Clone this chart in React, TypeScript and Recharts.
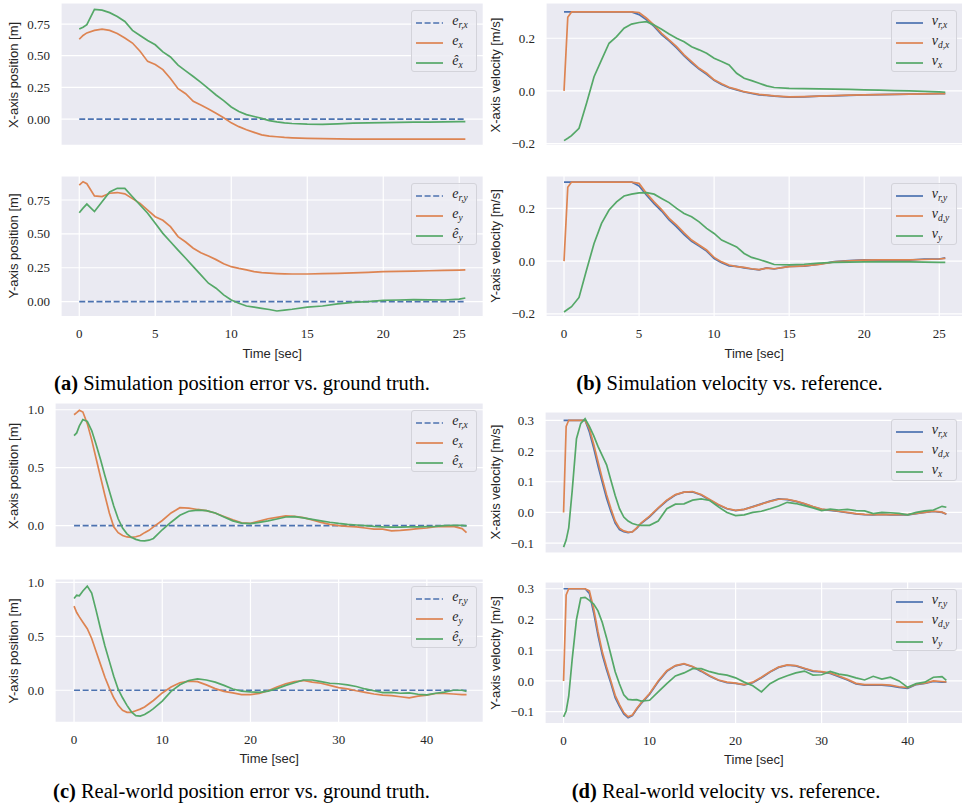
import React from 'react';
import { LineChart, Line, XAxis, YAxis, CartesianGrid } from 'recharts';

const BLUE = '#4C72B0';
const ORANGE = '#DD8452';
const GREEN = '#55A868';
const TEXT = '#262626';

// ---------- time axes ----------
const simTime = [0, 0.25, 0.5, 1, 1.5, 2, 2.5, 3, 3.5, 4, 4.5,
  5, 5.5, 6, 6.5, 7, 7.5, 8, 8.5, 9, 9.5, 10, 10.5, 11, 11.5, 12, 12.5, 13, 13.5, 14,
  15, 16, 17, 18, 19, 20, 21, 22, 23, 24, 25, 25.4];
const realTime = [0, 0.3, 0.6, 1, 1.5, 2, 2.5, 3, 3.5, 4, 4.5, 5, 5.5, 6, 6.5, 7, 7.5, 8, 8.5, 9,
  10, 11, 12, 13, 14, 15, 16, 17, 18, 19, 20, 21, 22, 23, 24, 25, 26, 27, 28, 29,
  30, 31, 32, 33, 34, 35, 36, 37, 38, 39, 40, 41, 42, 43, 44, 44.5];
const simRefTime = [0, 25.4];
const simRefVal = [0, 0];
const realRefTime = [0, 44.5];
const realRefVal = [0, 0];

// ---------- tick labels ----------
const simTimeTicks = [0, 5, 10, 15, 20, 25];
const realTimeTicks = [0, 10, 20, 30, 40];
const simPosTicks = [0, 0.25, 0.5, 0.75];
const simVelTicks = [-0.2, 0, 0.2];
const realPosTicks = [0, 0.5, 1];
const realVelTicks = [-0.1, 0, 0.1, 0.2, 0.3];

// ---------- (a) simulation position ----------
const simPosX_e = [0.63, 0.66, 0.68, 0.70, 0.71, 0.70, 0.675, 0.64, 0.60, 0.535, 0.455,
  0.43, 0.39, 0.32, 0.24, 0.20, 0.14, 0.11, 0.08, 0.045, 0.01, -0.03, -0.06, -0.085, -0.105, -0.125, -0.135, -0.14, -0.145, -0.148,
  -0.152, -0.155, -0.157, -0.158, -0.158, -0.159, -0.159, -0.159, -0.159, -0.158, -0.158, -0.158];
const simPosX_est = [0.71, 0.725, 0.745, 0.865, 0.86, 0.84, 0.81, 0.77, 0.70, 0.66, 0.62,
  0.586, 0.53, 0.49, 0.425, 0.38, 0.336, 0.29, 0.24, 0.19, 0.145, 0.095, 0.06, 0.035, 0.02, 0.005, -0.012, -0.022, -0.03, -0.035,
  -0.04, -0.042, -0.038, -0.033, -0.03, -0.028, -0.026, -0.025, -0.024, -0.022, -0.02, -0.02];
const simPosY_e = [0.86, 0.885, 0.87, 0.78, 0.775, 0.80, 0.805, 0.795, 0.76, 0.725, 0.675,
  0.627, 0.60, 0.553, 0.48, 0.44, 0.394, 0.36, 0.337, 0.31, 0.28, 0.258, 0.245, 0.234, 0.222, 0.214, 0.21, 0.207, 0.205, 0.204,
  0.204, 0.206, 0.208, 0.212, 0.216, 0.221, 0.223, 0.225, 0.228, 0.231, 0.233, 0.234];
const simPosY_est = [0.656, 0.69, 0.72, 0.665, 0.737, 0.81, 0.836, 0.836, 0.774, 0.713, 0.652,
  0.578, 0.504, 0.442, 0.38, 0.32, 0.258, 0.197, 0.136, 0.099, 0.05, 0.012, -0.012, -0.032, -0.04, -0.049, -0.058, -0.069, -0.062, -0.056,
  -0.041, -0.032, -0.017, -0.005, 0.0, 0.01, 0.012, 0.015, 0.013, 0.012, 0.018, 0.027];

// ---------- (b) simulation velocity ----------
const simVelX_ref = [0.3, 0.3, 0.3, 0.3, 0.3, 0.3, 0.3, 0.3, 0.3, 0.3, 0.3,
  0.29, 0.27, 0.245, 0.214, 0.19, 0.163, 0.133, 0.107, 0.083, 0.063, 0.04, 0.024, 0.012, 0.004, -0.004, -0.01, -0.015, -0.017, -0.02,
  -0.024, -0.023, -0.02, -0.019, -0.017, -0.015, -0.014, -0.013, -0.012, -0.011, -0.01, -0.01];
const simVelX_des = [0, 0.28, 0.3, 0.3, 0.3, 0.3, 0.3, 0.3, 0.3, 0.3, 0.3,
  0.298, 0.276, 0.25, 0.219, 0.194, 0.168, 0.137, 0.111, 0.086, 0.067, 0.042, 0.027, 0.014, 0.006, -0.003, -0.008, -0.013, -0.016, -0.019,
  -0.023, -0.022, -0.02, -0.018, -0.016, -0.015, -0.014, -0.013, -0.012, -0.011, -0.01, -0.01];
const simVelX_meas = [-0.189, -0.18, -0.17, -0.142, -0.047, 0.054, 0.118, 0.181, 0.206, 0.238, 0.254,
  0.26, 0.263, 0.25, 0.234, 0.216, 0.2, 0.187, 0.168, 0.156, 0.143, 0.124, 0.112, 0.099, 0.067, 0.048, 0.039, 0.029, 0.019, 0.013,
  0.01, 0.009, 0.008, 0.007, 0.006, 0.004, 0.003, 0.001, 0.0, -0.002, -0.004, -0.005];
const simVelY_ref = [0.3, 0.3, 0.3, 0.3, 0.3, 0.3, 0.3, 0.3, 0.3, 0.3, 0.3,
  0.285, 0.25, 0.218, 0.19, 0.156, 0.13, 0.1, 0.075, 0.057, 0.038, 0.01, -0.006, -0.018, -0.02, -0.026, -0.03, -0.033, -0.026, -0.03,
  -0.02, -0.019, -0.012, -0.002, 0.002, 0.005, 0.004, 0.005, 0.004, 0.008, 0.008, 0.012];
const simVelY_des = [0, 0.28, 0.3, 0.3, 0.3, 0.3, 0.3, 0.3, 0.3, 0.3, 0.3,
  0.295, 0.257, 0.225, 0.196, 0.162, 0.137, 0.107, 0.08, 0.061, 0.042, 0.014, -0.003, -0.015, -0.021, -0.024, -0.029, -0.032, -0.027, -0.029,
  -0.021, -0.018, -0.013, -0.003, 0.001, 0.004, 0.005, 0.005, 0.005, 0.006, 0.008, 0.01];
const simVelY_meas = [-0.193, -0.183, -0.173, -0.138, -0.034, 0.067, 0.143, 0.194, 0.225, 0.247, 0.254,
  0.259, 0.26, 0.254, 0.238, 0.222, 0.2, 0.181, 0.168, 0.149, 0.124, 0.105, 0.08, 0.067, 0.054, 0.029, 0.014, 0.006, -0.003, -0.013,
  -0.014, -0.012, -0.008, -0.005, -0.004, -0.003, -0.003, -0.003, -0.003, -0.004, -0.005, -0.005];

// ---------- (c) real-world position ----------
const realPosX_e = [0.957, 0.975, 0.995, 0.98, 0.88, 0.74, 0.58, 0.42, 0.26, 0.11, -0.01, -0.06, -0.085, -0.097, -0.1, -0.095, -0.085, -0.06, -0.04, -0.01,
  0.045, 0.11, 0.155, 0.152, 0.14, 0.13, 0.11, 0.08, 0.05, 0.025, 0.02, 0.04, 0.06, 0.072, 0.085, 0.08, 0.07, 0.05, 0.028, 0.012,
  0.0, -0.005, -0.01, -0.02, -0.03, -0.03, -0.045, -0.04, -0.033, -0.025, -0.02, -0.008, -0.008, -0.006, -0.025, -0.06];
const realPosX_est = [0.776, 0.8, 0.86, 0.915, 0.9, 0.82, 0.7, 0.57, 0.43, 0.3, 0.17, 0.06, -0.02, -0.07, -0.1, -0.118, -0.128, -0.13, -0.125, -0.11,
  -0.035, 0.03, 0.09, 0.125, 0.135, 0.13, 0.11, 0.075, 0.042, 0.022, 0.018, 0.028, 0.042, 0.058, 0.075, 0.078, 0.068, 0.055, 0.042, 0.03,
  0.02, 0.012, 0.006, 0.0, -0.006, -0.01, -0.012, -0.012, -0.01, -0.01, -0.008, -0.005, 0.0, 0.004, 0.002, -0.002];
const realPosY_e = [0.78, 0.72, 0.68, 0.63, 0.57, 0.48, 0.36, 0.24, 0.12, 0.02, -0.07, -0.14, -0.185, -0.205, -0.205, -0.19, -0.175, -0.155, -0.125, -0.095,
  -0.025, 0.03, 0.07, 0.085, 0.08, 0.05, 0.015, -0.01, -0.025, -0.04, -0.04, -0.03, -0.005, 0.03, 0.06, 0.08, 0.09, 0.075, 0.065, 0.045,
  0.025, 0.012, -0.005, -0.02, -0.035, -0.045, -0.05, -0.06, -0.07, -0.055, -0.045, -0.03, -0.03, -0.035, -0.04, -0.04];
const realPosY_est = [0.85, 0.88, 0.875, 0.92, 0.965, 0.9, 0.74, 0.57, 0.41, 0.27, 0.13, 0.01, -0.07, -0.14, -0.2, -0.235, -0.24, -0.225, -0.2, -0.17,
  -0.1, -0.01, 0.05, 0.09, 0.105, 0.095, 0.075, 0.045, 0.012, -0.008, -0.015, -0.02, -0.008, 0.015, 0.045, 0.07, 0.095, 0.095, 0.08, 0.065,
  0.06, 0.05, 0.035, 0.012, -0.005, -0.022, -0.02, -0.028, -0.025, -0.037, -0.043, -0.028, -0.018, 0.0, 0.0, -0.012];

// ---------- (d) real-world velocity ----------
const realVelX_ref = [0.3, 0.3, 0.3, 0.3, 0.3, 0.3, 0.3, 0.262, 0.21, 0.152, 0.098, 0.046, 0.003, -0.035, -0.056, -0.063, -0.066, -0.063, -0.052, -0.036,
  -0.014, 0.013, 0.038, 0.057, 0.066, 0.067, 0.057, 0.04, 0.024, 0.012, 0.006, 0.01, 0.019, 0.028, 0.037, 0.044, 0.042, 0.036, 0.028, 0.018,
  0.01, 0.007, 0.003, -0.001, -0.005, -0.007, -0.008, -0.006, -0.008, -0.007, -0.008, -0.004, 0.0, 0.003, 0.0, -0.006];
const realVelX_des = [0, 0.28, 0.3, 0.3, 0.3, 0.3, 0.3, 0.272, 0.222, 0.166, 0.11, 0.058, 0.013, -0.028, -0.051, -0.06, -0.064, -0.063, -0.05, -0.035,
  -0.012, 0.015, 0.04, 0.058, 0.066, 0.068, 0.058, 0.042, 0.026, 0.013, 0.007, 0.01, 0.018, 0.027, 0.036, 0.043, 0.043, 0.037, 0.029, 0.019,
  0.011, 0.008, 0.004, 0.0, -0.004, -0.006, -0.007, -0.006, -0.007, -0.007, -0.007, -0.003, 0.0, 0.004, 0.001, -0.005];
const realVelX_meas = [-0.113, -0.09, -0.05, 0.07, 0.24, 0.29, 0.305, 0.28, 0.25, 0.215, 0.185, 0.155, 0.105, 0.055, 0.012, -0.015, -0.028, -0.036, -0.04, -0.042,
  -0.042, -0.028, 0.012, 0.027, 0.028, 0.04, 0.044, 0.039, 0.018, 0.0, -0.01, -0.008, 0.0, 0.004, 0.012, 0.021, 0.033, 0.029, 0.022, 0.015,
  0.006, 0.011, 0.008, 0.01, 0.006, 0.005, -0.004, 0.0, -0.001, -0.003, -0.008, 0.0, 0.005, 0.008, 0.02, 0.017];
const realVelY_ref = [0.3, 0.3, 0.3, 0.3, 0.3, 0.3, 0.3, 0.285, 0.222, 0.148, 0.085, 0.036, -0.008, -0.055, -0.083, -0.108, -0.12, -0.113, -0.092, -0.074,
  -0.043, -0.003, 0.031, 0.049, 0.055, 0.046, 0.031, 0.015, 0.002, -0.006, -0.008, -0.013, -0.006, 0.01, 0.029, 0.044, 0.051, 0.049, 0.04, 0.031,
  0.029, 0.024, 0.014, 0.003, -0.01, -0.014, -0.013, -0.014, -0.016, -0.021, -0.024, -0.012, -0.008, -0.002, -0.004, -0.004];
const realVelY_des = [0, 0.28, 0.3, 0.3, 0.3, 0.3, 0.3, 0.293, 0.235, 0.16, 0.095, 0.045, 0.0, -0.047, -0.077, -0.103, -0.117, -0.111, -0.09, -0.072,
  -0.041, 0.0, 0.033, 0.05, 0.056, 0.047, 0.033, 0.017, 0.003, -0.004, -0.007, -0.012, -0.004, 0.012, 0.03, 0.045, 0.052, 0.05, 0.041, 0.033,
  0.03, 0.026, 0.016, 0.005, -0.008, -0.012, -0.012, -0.012, -0.014, -0.019, -0.022, -0.011, -0.007, 0.0, -0.002, -0.003];
const realVelY_meas = [-0.117, -0.098, -0.05, 0.07, 0.2, 0.27, 0.272, 0.262, 0.25, 0.228, 0.19, 0.14, 0.085, 0.03, -0.01, -0.045, -0.06, -0.062, -0.061, -0.066,
  -0.063, -0.036, -0.009, 0.016, 0.026, 0.04, 0.04, 0.03, 0.023, 0.019, 0.01, -0.004, -0.016, -0.036, -0.009, 0.006, 0.017, 0.026, 0.032, 0.019,
  0.02, 0.031, 0.022, 0.018, 0.01, 0.003, 0.015, 0.006, 0.012, 0.0, -0.021, -0.009, -0.004, 0.012, 0.014, 0.002];

// ---------- helpers ----------
type Pt = { t: number; v: number };
const zip = (t: number[], v: number[]): Pt[] => {
  const n = Math.min(t.length, v.length);
  const out: Pt[] = [];
  for (let i = 0; i < n; i++) out.push({ t: t[i], v: v[i] });
  return out;
};

interface SeriesDef { key: string; t: number[]; v: number[]; color: string; dashed?: boolean }
interface LegendDef { color: string; dashed?: boolean; base: string; sub: string }

interface PanelProps {
  x: number; y: number; w: number; h: number;
  xDomain: [number, number]; xTicks: number[];
  yDomain: [number, number]; yTicks: number[]; yDigits: number;
  yLabel: string; yLabelX: number;
  showX: boolean;
  series: SeriesDef[];
  legend: LegendDef[];
}

const ML = 64, MT = 6, MR = 6, MB = 6;
const SERIF = '"Liberation Serif", "DejaVu Serif", serif';
const SANS = '"Liberation Sans", Arial, sans-serif';

const fmt = (d: number) => (v: number) => (v < 0 ? '\u2212' : '') + Math.abs(v).toFixed(d);

function LegendBox({ left, top, items }: { left: number; top: number; items: LegendDef[] }) {
  return (
    <div style={{
      position: 'absolute', left, top, width: 66, height: 62, boxSizing: 'border-box',
      background: 'rgba(236,236,243,0.85)', border: '1px solid #d3d3da', borderRadius: 3,
    }}>
      {items.map((it, i) => (
        <div key={i} style={{ position: 'absolute', left: 4, top: 2 + i * 20, height: 20, display: 'flex', alignItems: 'center' }}>
          <svg width={27} height={4} style={{ display: 'block' }}>
            <line x1={0} y1={2} x2={27} y2={2} stroke={it.color} strokeWidth={1.7}
              strokeDasharray={it.dashed ? '6 2.6' : undefined} />
          </svg>
          <span style={{ marginLeft: 9, fontFamily: SERIF, fontStyle: 'italic', fontSize: 14, color: TEXT, lineHeight: '14px', whiteSpace: 'nowrap' }}>
            {it.base}<sub style={{ fontSize: 9.5, verticalAlign: '-3px' }}>{it.sub}</sub>
          </span>
        </div>
      ))}
    </div>
  );
}

function Panel(p: PanelProps) {
  const xh = p.showX ? 44 : 0;
  const width = p.w + ML + MR;
  const height = p.h + MT + MB + xh;
  return (
    <>
      <div style={{ position: 'absolute', left: p.x - ML, top: p.y - MT, width, height }}>
        <LineChart width={width} height={height} margin={{ top: MT, right: MR, bottom: MB, left: 0 }}>
          <CartesianGrid fill="#EAEAF2" fillOpacity={1} stroke="#FFFFFF" strokeWidth={1.2} />
          <XAxis type="number" dataKey="t" domain={p.xDomain} ticks={p.xTicks} allowDataOverflow
            axisLine={false} tickLine={false} tickSize={0} tickMargin={12} height={xh} interval={0}
            tick={p.showX ? { fontFamily: SERIF, fontSize: 13, fill: TEXT } : false} />
          <YAxis type="number" domain={p.yDomain} ticks={p.yTicks} allowDataOverflow
            axisLine={false} tickLine={false} tickSize={0} tickMargin={11} width={ML} interval={0}
            tickFormatter={fmt(p.yDigits)}
            tick={{ fontFamily: SERIF, fontSize: 13, fill: TEXT }} />
          {p.series.map((s) => (
            <Line key={s.key} data={zip(s.t, s.v)} dataKey="v" name={s.key} type="linear"
              stroke={s.color} strokeWidth={1.7} strokeDasharray={s.dashed ? '6 2.6' : undefined}
              dot={false} activeDot={false} isAnimationActive={false} />
          ))}
        </LineChart>
      </div>
      <div style={{
        position: 'absolute', left: p.yLabelX, top: p.y + p.h / 2, transform: 'translate(-50%,-50%) rotate(-90deg)',
        fontFamily: SANS, fontSize: 13, color: TEXT, whiteSpace: 'nowrap',
      }}>{p.yLabel}</div>
      {p.showX && (
        <div style={{
          position: 'absolute', left: p.x + p.w / 2, top: p.y + p.h + 36, transform: 'translate(-50%,-50%)',
          fontFamily: SANS, fontSize: 13, color: TEXT, whiteSpace: 'nowrap',
        }}>Time [sec]</div>
      )}
      <LegendBox left={p.x + p.w - 6 - 66} top={p.y + 7} items={p.legend} />
    </>
  );
}

function Caption({ cx, cy, tag, text }: { cx: number; cy: number; tag: string; text: string }) {
  return (
    <div style={{
      position: 'absolute', left: cx, top: cy, transform: 'translate(-50%,-50%)', whiteSpace: 'nowrap',
      fontFamily: SERIF, fontSize: 20.5, color: '#000',
    }}><b>({tag})</b> {text}</div>
  );
}

const posLegendX: LegendDef[] = [
  { color: BLUE, dashed: true, base: 'e', sub: 'r,x' },
  { color: ORANGE, base: 'e', sub: 'x' },
  { color: GREEN, base: '\u00ea', sub: 'x' },
];
const posLegendY: LegendDef[] = [
  { color: BLUE, dashed: true, base: 'e', sub: 'r,y' },
  { color: ORANGE, base: 'e', sub: 'y' },
  { color: GREEN, base: '\u00ea', sub: 'y' },
];
const velLegendX: LegendDef[] = [
  { color: BLUE, base: 'v', sub: 'r,x' },
  { color: ORANGE, base: 'v', sub: 'd,x' },
  { color: GREEN, base: 'v', sub: 'x' },
];
const velLegendY: LegendDef[] = [
  { color: BLUE, base: 'v', sub: 'r,y' },
  { color: ORANGE, base: 'v', sub: 'd,y' },
  { color: GREEN, base: 'v', sub: 'y' },
];

const simX: [number, number] = [-1.2, 26.58];
const realX: [number, number] = [-2.16, 46.4];

export default function App() {
  return (
    <div style={{ position: 'absolute', left: 0, top: 0, width: 962, height: 806, overflow: 'hidden', background: '#fff' }}>
      {/* (a) */}
      <Panel x={61} y={3.3} w={422.3} h={142.4} xDomain={simX} xTicks={simTimeTicks}
        yDomain={[-0.208, 0.916]} yTicks={simPosTicks} yDigits={2}
        yLabel="X-axis position [m]" yLabelX={13} showX={false}
        series={[
          { key: 'erx', t: simRefTime, v: simRefVal, color: BLUE, dashed: true },
          { key: 'ex', t: simTime, v: simPosX_e, color: ORANGE },
          { key: 'ehx', t: simTime, v: simPosX_est, color: GREEN },
        ]} legend={posLegendX} />
      <Panel x={61} y={176} w={422.3} h={140.7} xDomain={simX} xTicks={simTimeTicks}
        yDomain={[-0.111, 0.927]} yTicks={simPosTicks} yDigits={2}
        yLabel="Y-axis position [m]" yLabelX={13} showX={true}
        series={[
          { key: 'ery', t: simRefTime, v: simRefVal, color: BLUE, dashed: true },
          { key: 'ey', t: simTime, v: simPosY_e, color: ORANGE },
          { key: 'ehy', t: simTime, v: simPosY_est, color: GREEN },
        ]} legend={posLegendY} />
      {/* (b) */}
      <Panel x={545.7} y={3.3} w={417} h={142.4} xDomain={simX} xTicks={simTimeTicks}
        yDomain={[-0.207, 0.334]} yTicks={simVelTicks} yDigits={1}
        yLabel="X-axis velocity [m/s]" yLabelX={495} showX={false}
        series={[
          { key: 'vrx', t: simTime, v: simVelX_ref, color: BLUE },
          { key: 'vdx', t: simTime, v: simVelX_des, color: ORANGE },
          { key: 'vx', t: simTime, v: simVelX_meas, color: GREEN },
        ]} legend={velLegendX} />
      <Panel x={545.7} y={176} w={417} h={140.7} xDomain={simX} xTicks={simTimeTicks}
        yDomain={[-0.211, 0.323]} yTicks={simVelTicks} yDigits={1}
        yLabel="Y-axis velocity [m/s]" yLabelX={495} showX={true}
        series={[
          { key: 'vry', t: simTime, v: simVelY_ref, color: BLUE },
          { key: 'vdy', t: simTime, v: simVelY_des, color: ORANGE },
          { key: 'vy', t: simTime, v: simVelY_meas, color: GREEN },
        ]} legend={velLegendY} />
      {/* (c) */}
      <Panel x={55} y={403.3} w={428.3} h={144.4} xDomain={realX} xTicks={realTimeTicks}
        yDomain={[-0.187, 1.058]} yTicks={realPosTicks} yDigits={1}
        yLabel="X-axis position [m]" yLabelX={13} showX={false}
        series={[
          { key: 'erx', t: realRefTime, v: realRefVal, color: BLUE, dashed: true },
          { key: 'ex', t: realTime, v: realPosX_e, color: ORANGE },
          { key: 'ehx', t: realTime, v: realPosX_est, color: GREEN },
        ]} legend={posLegendX} />
      <Panel x={55} y={579} w={428.3} h={143.3} xDomain={realX} xTicks={realTimeTicks}
        yDomain={[-0.297, 1.031]} yTicks={realPosTicks} yDigits={1}
        yLabel="Y-axis position [m]" yLabelX={13} showX={true}
        series={[
          { key: 'ery', t: realRefTime, v: realRefVal, color: BLUE, dashed: true },
          { key: 'ey', t: realTime, v: realPosY_e, color: ORANGE },
          { key: 'ehy', t: realTime, v: realPosY_est, color: GREEN },
        ]} legend={posLegendY} />
      {/* (d) */}
      <Panel x={545} y={411.7} w={417.7} h={141} xDomain={realX} xTicks={realTimeTicks}
        yDomain={[-0.132, 0.327]} yTicks={realVelTicks} yDigits={1}
        yLabel="X-axis velocity [m/s]" yLabelX={495} showX={false}
        series={[
          { key: 'vrx', t: realTime, v: realVelX_ref, color: BLUE },
          { key: 'vdx', t: realTime, v: realVelX_des, color: ORANGE },
          { key: 'vx', t: realTime, v: realVelX_meas, color: GREEN },
        ]} legend={velLegendX} />
      <Panel x={545} y={581.7} w={417.7} h={141.6} xDomain={realX} xTicks={realTimeTicks}
        yDomain={[-0.139, 0.322]} yTicks={realVelTicks} yDigits={1}
        yLabel="Y-axis velocity [m/s]" yLabelX={495} showX={true}
        series={[
          { key: 'vry', t: realTime, v: realVelY_ref, color: BLUE },
          { key: 'vdy', t: realTime, v: realVelY_des, color: ORANGE },
          { key: 'vy', t: realTime, v: realVelY_meas, color: GREEN },
        ]} legend={velLegendY} />

      <Caption cx={242} cy={383} tag="a" text="Simulation position error vs. ground truth." />
      <Caption cx={729.5} cy={383} tag="b" text="Simulation velocity vs. reference." />
      <Caption cx={241.5} cy={791} tag="c" text="Real-world position error vs. ground truth." />
      <Caption cx={726} cy={791} tag="d" text="Real-world velocity vs. reference." />
    </div>
  );
}
